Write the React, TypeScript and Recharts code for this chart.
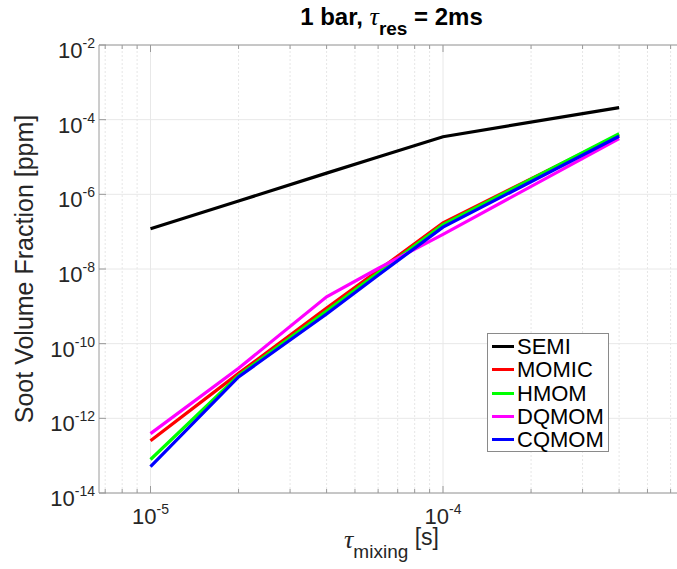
import {
  CartesianGrid,
  Legend,
  Line,
  LineChart,
  ReferenceLine,
  XAxis,
  YAxis,
} from "recharts";

// tau_mixing [s]
const tauMixing = [1e-5, 2e-5, 4e-5, 6e-5, 1e-4, 4e-4];

// soot volume fraction [ppm]
const semi = [1.2e-7, 6.6e-7, 3.7e-6, 1.0e-5, 3.5e-5, 2.1e-4];
const momic = [2.5e-13, 1.6e-11, 9.0e-10, 9.1e-9, 1.73e-7, 3.9e-5];
const hmom = [7.9e-14, 1.4e-11, 7.5e-10, 7.9e-9, 1.55e-7, 4.2e-5];
const dqmom = [3.9e-13, 2.2e-11, 1.8e-9, 1.03e-8, 8.5e-8, 3.1e-5];
const cqmom = [5.1e-14, 1.29e-11, 6.2e-10, 6.8e-9, 1.32e-7, 3.6e-5];

const xMajorTicks = [1e-5, 1e-4];
const xMinorTicks = [
  7e-6, 8e-6, 9e-6,
  2e-5, 3e-5, 4e-5, 5e-5, 6e-5, 7e-5, 8e-5, 9e-5,
  2e-4, 3e-4, 4e-4, 5e-4, 6e-4,
];
const yTicks = [1e-14, 1e-12, 1e-10, 1e-8, 1e-6, 1e-4, 1e-2];
const xDomain = [1e-5 / 1.5, 1e-3 / 1.5];
const yDomain = [1e-14, 1e-2];

const series = [
  { key: "semi", name: "SEMI", color: "#000000", values: semi },
  { key: "momic", name: "MOMIC", color: "#ff0000", values: momic },
  { key: "hmom", name: "HMOM", color: "#00ff00", values: hmom },
  { key: "dqmom", name: "DQMOM", color: "#ff00ff", values: dqmom },
  { key: "cqmom", name: "CQMOM", color: "#0000ff", values: cqmom },
];

const rows = tauMixing.map((t, i) => {
  const row: Record<string, number> = { t };
  series.forEach((s) => (row[s.key] = s.values[i]));
  return row;
});

const allXTicks = [...xMajorTicks, ...xMinorTicks].sort((a, b) => a - b);

const FONT = "'Liberation Sans', Arial, Helvetica, sans-serif";
const SERIF = "'Liberation Serif', 'DejaVu Serif', serif";
const AXIS = "#9a9a9a";
const TEXT = "#262626";

const expOf = (v: number) => Math.round(Math.log10(v));

const BottomTick = (props: any) => {
  const { x, y, payload } = props;
  const major = xMajorTicks.includes(payload.value);
  return (
    <g>
      <line x1={x} y1={y} x2={x} y2={y - (major ? 7 : 4)} stroke={AXIS} />
      {major && (
        <text x={x} y={y + 31} textAnchor="middle" fill={TEXT} fontFamily={FONT} fontSize={22}>
          <tspan>10</tspan>
          <tspan fontSize={14} dy={-10}>{expOf(payload.value)}</tspan>
        </text>
      )}
    </g>
  );
};

const TopTick = (props: any) => {
  const { x, y, payload } = props;
  const major = xMajorTicks.includes(payload.value);
  return <line x1={x} y1={y} x2={x} y2={y + (major ? 7 : 4)} stroke={AXIS} />;
};

const LeftTick = (props: any) => {
  const { x, y, payload } = props;
  return (
    <g>
      <line x1={x} y1={y} x2={x + 7} y2={y} stroke={AXIS} />
      <text x={x - 4} y={y + 13} textAnchor="end" fill={TEXT} fontFamily={FONT} fontSize={22}>
        <tspan>10</tspan>
        <tspan fontSize={14} dy={-10}>{expOf(payload.value)}</tspan>
      </text>
    </g>
  );
};

const Title = (props: any) => {
  const { x, width, y, height } = props.viewBox;
  return (
    <text x={x + width / 2} y={y + height - 20} textAnchor="middle" fill="#000" fontFamily={FONT} fontSize={24} fontWeight="bold">
      <tspan>1 bar, </tspan>
      <tspan fontFamily={SERIF} fontStyle="italic" fontWeight="normal" fontSize={26}>τ</tspan>
      <tspan fontSize={19} dy={10}>res</tspan>
      <tspan dy={-10}> = 2ms</tspan>
    </text>
  );
};

const XTitle = (props: any) => {
  const { x, width, y } = props.viewBox;
  return (
    <text x={x + width / 2} y={y + 55} textAnchor="middle" fill={TEXT} fontFamily={FONT} fontSize={23}>
      <tspan fontFamily={SERIF} fontStyle="italic" fontSize={26}>τ</tspan>
      <tspan fontSize={19} dy={10}>mixing</tspan>
      <tspan dy={-13}> [s]</tspan>
    </text>
  );
};

const YTitle = (props: any) => {
  const { y, height } = props.viewBox;
  const cx = 33;
  const cy = y + height / 2;
  return (
    <text x={cx} y={cy} transform={`rotate(-90, ${cx}, ${cy})`} textAnchor="middle" fill={TEXT} fontFamily={FONT} fontSize={25}>
      Soot Volume Fraction [ppm]
    </text>
  );
};

const LegendBox = () => (
  <div
    style={{
      boxSizing: "border-box",
      width: 122,
      height: 119,
      border: "1px solid #8a8a8a",
      background: "#fff",
      padding: "1px 0 0 4px",
      fontFamily: FONT,
      fontSize: 22,
      color: "#000",
    }}
  >
    {series.map((s) => (
      <div key={s.key} style={{ display: "flex", alignItems: "center", height: 23.3 }}>
        <span style={{ display: "inline-block", width: 22, height: 3, background: s.color, marginRight: 3 }} />
        <span style={{ lineHeight: "23px" }}>{s.name}</span>
      </div>
    ))}
  </div>
);

export default function App() {
  return (
    <div
      style={{
        position: "absolute",
        left: 0,
        top: 0,
        width: 677,
        height: 569,
        overflow: "hidden",
        background: "#fff",
      }}
    >
      <LineChart width={684} height={569} data={rows} margin={{ top: 15, right: 0, bottom: 0, left: 0 }}>
        <CartesianGrid vertical={false} stroke="#e8e8e8" />
        {xMinorTicks.map((v) => (
          <ReferenceLine key={`m${v}`} x={v} stroke="#e6e6e6" strokeDasharray="2 2" />
        ))}
        {xMajorTicks.map((v) => (
          <ReferenceLine key={`M${v}`} x={v} stroke="#e8e8e8" />
        ))}
        <XAxis
          xAxisId="top"
          orientation="top"
          dataKey="t"
          type="number"
          scale="log"
          domain={xDomain}
          allowDataOverflow
          ticks={allXTicks}
          interval={0}
          tick={TopTick}
          tickLine={false}
          tickSize={0}
          tickMargin={0}
          height={30}
          stroke={AXIS}
          label={{ content: Title }}
        />
        <XAxis
          dataKey="t"
          type="number"
          scale="log"
          domain={xDomain}
          allowDataOverflow
          ticks={allXTicks}
          interval={0}
          tick={BottomTick}
          tickLine={false}
          tickSize={0}
          tickMargin={0}
          height={76}
          stroke={AXIS}
          label={{ content: XTitle }}
        />
        <YAxis
          type="number"
          scale="log"
          domain={yDomain}
          allowDataOverflow
          ticks={yTicks}
          interval={0}
          tick={LeftTick}
          tickLine={false}
          tickSize={0}
          tickMargin={0}
          width={99}
          stroke={AXIS}
          label={{ content: YTitle }}
        />
        {series.map((s) => (
          <Line
            key={s.key}
            type="linear"
            dataKey={s.key}
            name={s.name}
            stroke={s.color}
            strokeWidth={3.2}
            dot={false}
            activeDot={false}
            isAnimationActive={false}
          />
        ))}
        <Legend
          layout="vertical"
          align="center"
          verticalAlign="middle"
          content={LegendBox}
          wrapperStyle={{ left: 487, top: 333, width: 122, height: 119 }}
        />
      </LineChart>
    </div>
  );
}
